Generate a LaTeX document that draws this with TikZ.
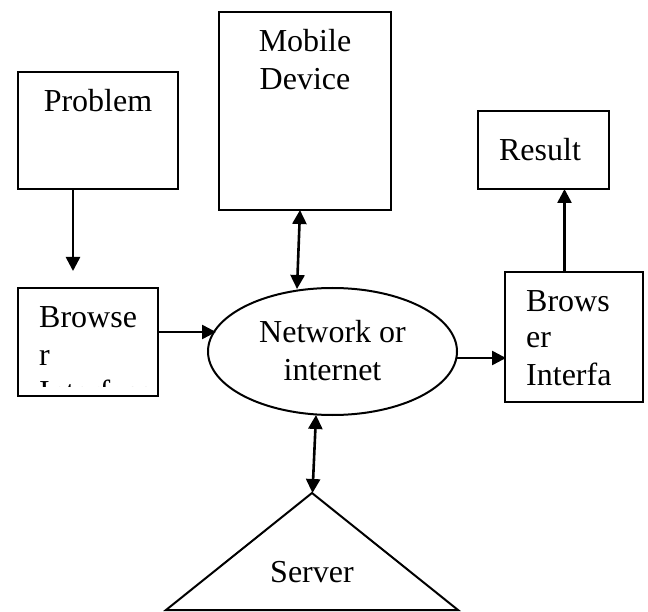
\documentclass[tikz,border=0pt]{standalone}
\usepackage{fontspec}
\setmainfont{Liberation Serif}
\usetikzlibrary{arrows.meta,shapes.geometric}
\begin{document}
\begin{tikzpicture}[x=1pt,y=-1pt,
  box/.style={draw,line width=2pt,inner sep=0pt,minimum width=#1},
  lbl/.style={inner sep=0pt,font=\fontsize{32}{37}\selectfont},
  conn/.style={line width=2.6pt,-{Triangle[length=14pt,width=14pt]}},
  dconn/.style={line width=2.6pt,{Triangle[length=14pt,width=14pt]}-{Triangle[length=14pt,width=14pt]}}]
\useasboundingbox (0,0) rectangle (648,612);
% boxes
\node[box=160pt,minimum height=117pt] (prob) at (98,130.5) {};
\node[box=172pt,minimum height=198pt] (mob) at (305,111) {};
\node[box=131pt,minimum height=78pt] (res) at (543.5,150) {};
\node[box=140pt,minimum height=108pt] (bl) at (88,342) {};
\node[box=138pt,minimum height=130pt] (br) at (574,337) {};
\node[draw,line width=2pt,ellipse,inner sep=0pt,minimum width=249pt,minimum height=127pt] (net) at (332.5,351.5) {};
% server triangle
\coordinate (sapex) at (312,493);
\coordinate (sl) at (166,610);
\coordinate (sr) at (458,610);
\draw[line width=2pt,line join=miter] (sapex) -- (sr) -- (sl) -- cycle;
% texts
\node[lbl,anchor=base] (tprob) at (98,112) {Problem};
\node[lbl,anchor=base] (tmob1) at (305,52) {Mobile};
\node[lbl,anchor=base] (tmob2) at (305,90) {Device};
\node[lbl,anchor=base] (tres) at (540,161) {Result};
\node[lbl,anchor=base] (tnet1) at (332.5,343) {Network or};
\node[lbl,anchor=base] (tnet2) at (332.5,380) {internet};
\node[lbl,anchor=base] (tsrv) at (312,582) {Server};
\node[lbl,anchor=base west] (tbr1) at (526,312) {Brows};
\node[lbl,anchor=base west] (tbr2) at (526,348) {er};
\node[lbl,anchor=base west] (tbr3) at (526,385) {Interfa};
\begin{scope}
\clip (18,288) rectangle (158,386);
\node[lbl,anchor=base west] (tbl1) at (39,327) {Browse};
\node[lbl,anchor=base west] (tbl2) at (39,365) {r};
\node[lbl,anchor=base west] (tbl3) at (39,402) {Interface};
\end{scope}
% connector endpoints
\coordinate (p1) at (73,189);
\coordinate (p2) at (73,271);
\coordinate (b1) at (158,332);
\coordinate (b2) at (216,332);
\coordinate (m1) at (300,210);
\coordinate (m2) at (297,289);
\coordinate (n1) at (316,415);
\coordinate (n2) at (312.5,493);
\coordinate (r1) at (457,358);
\coordinate (r2) at (506,358);
\coordinate (u1) at (564.5,272);
\coordinate (u2) at (564.5,189);
% connectors
\draw[conn] (p1) -- (p2);
\draw[conn] (b1) -- (b2);
\draw[dconn] (m1) -- (m2);
\draw[dconn] (n1) -- (n2);
\draw[conn] (r1) -- (r2);
\draw[conn] (u1) -- (u2);
\end{tikzpicture}
\end{document}
